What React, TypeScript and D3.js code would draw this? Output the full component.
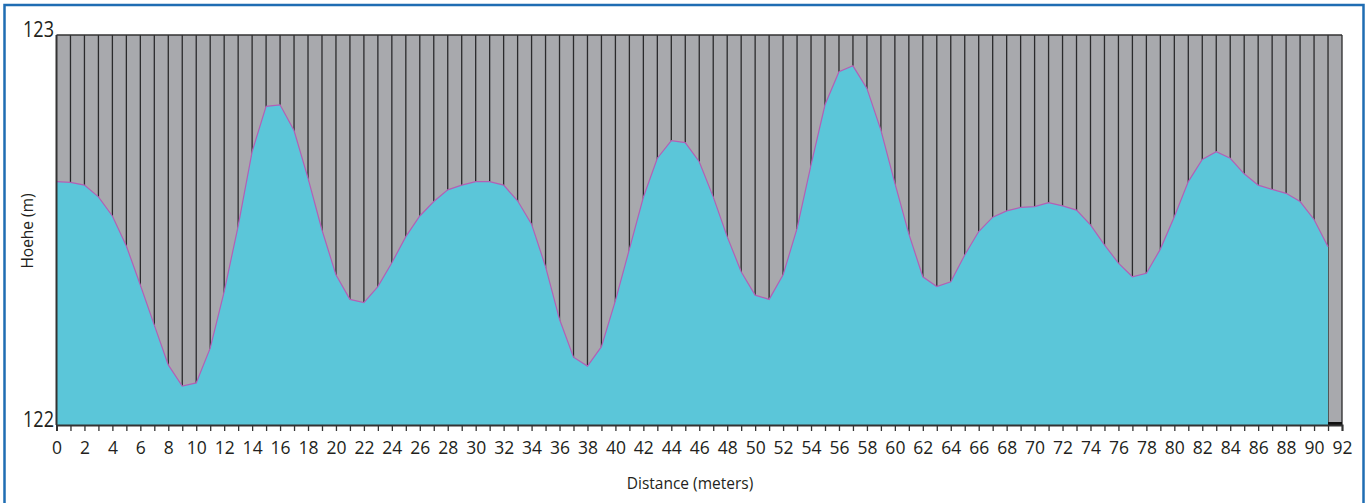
import React, { useEffect, useRef } from 'react'
import * as d3 from 'd3'

// elevation profile, one reading per meter (0..91)
const distances: number[] = d3.range(0, 92)
const elevations: number[] = [
  122.624, 122.622, 122.615, 122.585, 122.536, 122.459, 122.359, 122.256, 122.154, 122.100,
  122.108, 122.197, 122.342, 122.510, 122.701, 122.817, 122.821, 122.755, 122.633, 122.500,
  122.385, 122.322, 122.314, 122.355, 122.416, 122.483, 122.536, 122.573, 122.603, 122.615,
  122.624, 122.624, 122.615, 122.575, 122.515, 122.406, 122.271, 122.174, 122.151, 122.201,
  122.319, 122.451, 122.584, 122.684, 122.729, 122.724, 122.675, 122.585, 122.483, 122.393,
  122.333, 122.322, 122.385, 122.504, 122.667, 122.821, 122.906, 122.921, 122.863, 122.756,
  122.620, 122.490, 122.380, 122.355, 122.367, 122.436, 122.496, 122.533, 122.549, 122.558,
  122.560, 122.570, 122.562, 122.551, 122.513, 122.462, 122.415, 122.380, 122.389, 122.451,
  122.534, 122.624, 122.681, 122.701, 122.684, 122.644, 122.615, 122.604, 122.594, 122.573,
  122.527, 122.457,
]
const xDomain = [0, 92]
const yDomain = [122, 123]
const xTickLabels: number[] = d3.range(0, 93, 2)
const yTickLabels: number[] = [122, 123]

const W = 1370
const H = 503

export default function App() {
  const ref = useRef<SVGSVGElement>(null)

  useEffect(() => {
    const svg = d3.select(ref.current)
    svg.selectAll('*').remove()

    const x = d3.scaleLinear().domain(xDomain).range([56.5, 1342])
    const y = d3.scaleLinear().domain(yDomain).range([425, 35])
    const font = "'Open Sans', sans-serif"

    // outer blue frame (bottom edge runs off the picture)
    svg.append('rect')
      .attr('x', 4.5).attr('y', 5).attr('width', 1359).attr('height', 505)
      .attr('fill', 'white').attr('stroke', '#1f6db3').attr('stroke-width', 2.5)

    // grey background of plot
    svg.append('rect')
      .attr('x', x(0)).attr('y', y(123))
      .attr('width', x(92) - x(0)).attr('height', y(122) - y(123))
      .attr('fill', '#a8a9ad')

    // vertical grid lines at each meter
    svg.append('g')
      .selectAll('line')
      .data(d3.range(1, 93))
      .join('line')
      .attr('x1', d => x(d)).attr('x2', d => x(d))
      .attr('y1', y(123)).attr('y2', y(122))
      .attr('stroke', '#2a2a2c').attr('stroke-width', 1.3)

    const pts = distances.map((d, i) => [d, elevations[i]] as [number, number])

    // filled profile
    const area = d3.area<[number, number]>()
      .x(d => x(d[0]))
      .y0(y(122))
      .y1(d => y(d[1]))
    svg.append('path')
      .datum(pts)
      .attr('d', area)
      .attr('fill', '#5bc6d9')

    const line = d3.line<[number, number]>()
      .x(d => x(d[0]))
      .y(d => y(d[1]))
    svg.append('path')
      .datum(pts)
      .attr('d', line)
      .attr('fill', 'none')
      .attr('stroke', '#b35fb6')
      .attr('stroke-width', 1.2)

    // dark piece at the bottom right after the data ends
    svg.append('line')
      .attr('x1', x(91)).attr('x2', x(92))
      .attr('y1', y(122) - 1.5).attr('y2', y(122) - 1.5)
      .attr('stroke', '#111').attr('stroke-width', 3)

    // plot border
    svg.append('line')
      .attr('x1', x(0)).attr('x2', x(92)).attr('y1', y(123)).attr('y2', y(123))
      .attr('stroke', '#333').attr('stroke-width', 1.5)
    svg.append('line')
      .attr('x1', x(0)).attr('x2', x(0)).attr('y1', y(123)).attr('y2', y(122))
      .attr('stroke', '#333').attr('stroke-width', 2)

    // x axis
    const xAxis = d3.axisBottom(x)
      .tickValues(d3.range(0, 93))
      .tickSize(6)
      .tickFormat(d => (xTickLabels.includes(+d) ? String(d) : ''))
    const gx = svg.append('g')
      .attr('transform', `translate(0,${y(122)})`)
      .call(xAxis)
    gx.select('.domain').attr('stroke', '#333').attr('stroke-width', 2)
    gx.selectAll('.tick line').attr('stroke', '#333').attr('stroke-width', 1.3)
    gx.selectAll('.tick text')
      .attr('font-family', font).attr('font-size', 17.5)
      .attr('fill', '#231f20').attr('y', 16.5)

    // y tick labels
    svg.append('g')
      .selectAll('text')
      .data(yTickLabels)
      .join('text')
      .attr('x', 54)
      .attr('y', d => y(d) + 1.5)
      .attr('text-anchor', 'end')
      .attr('font-family', font).attr('font-size', 22)
      .attr('textLength', 31).attr('lengthAdjust', 'spacingAndGlyphs')
      .attr('fill', '#231f20')
      .text(d => d)

    // axis titles
    svg.append('text')
      .attr('x', 690).attr('y', 489)
      .attr('text-anchor', 'middle')
      .attr('font-family', font).attr('font-size', 15.5)
      .attr('fill', '#231f20')
      .text('Distance (meters)')
    svg.append('text')
      .attr('transform', 'translate(33,231) rotate(-90)')
      .attr('text-anchor', 'middle')
      .attr('font-family', font).attr('font-size', 15.5)
      .attr('fill', '#231f20')
      .text('Hoehe (m)')
  }, [])

  return (
    <svg
      ref={ref}
      width={W}
      height={H}
      style={{ position: 'absolute', left: 0, top: 0, display: 'block' }}
    />
  )
}
